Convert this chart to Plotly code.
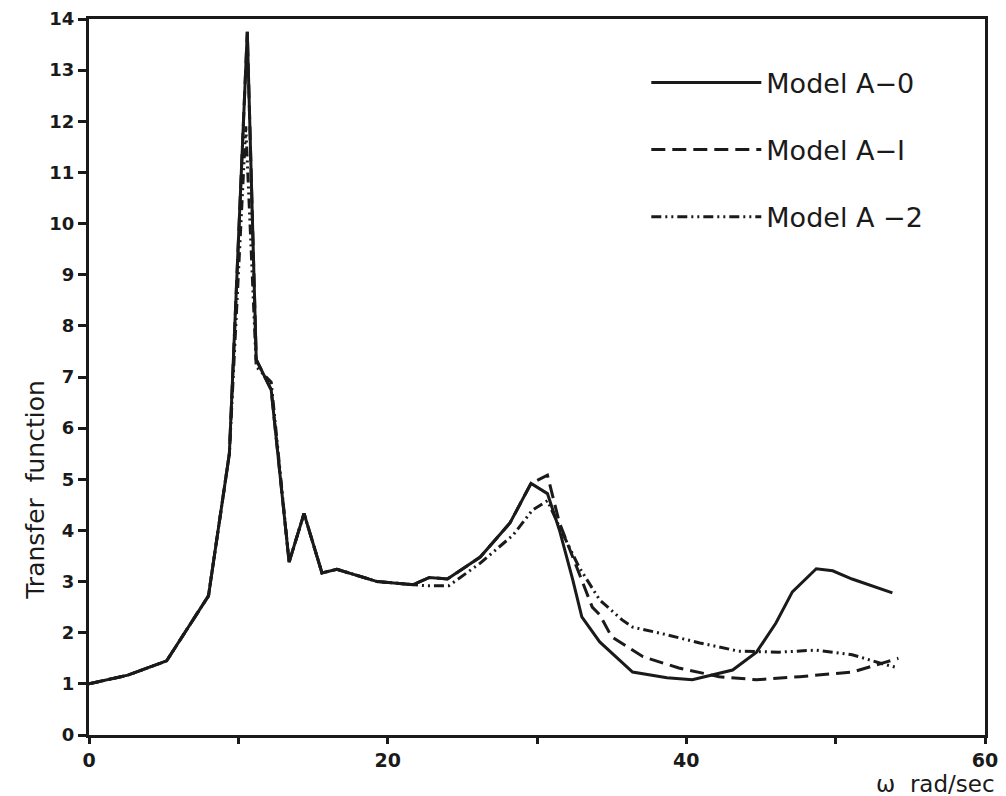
import plotly.graph_objects as go

# Model A-0 (solid)
x_a0 = [0, 2.6, 5.2, 8.0, 9.4, 10.6, 11.2, 12.2, 13.4, 14.4, 15.6, 16.6, 19.3, 21.7, 22.8, 24.0,
        26.2, 28.2, 29.6, 30.7, 31.5, 32.4, 33.0, 34.2, 36.4, 38.7, 40.4, 43.1, 44.7, 46.0,
        47.1, 48.7, 49.8, 51.1, 53.8]
y_a0 = [1.0, 1.17, 1.45, 2.72, 5.5, 13.75, 7.34, 6.75, 3.38, 4.33, 3.17, 3.24, 3.0, 2.94, 3.08, 3.05,
        3.48, 4.15, 4.92, 4.72, 4.01, 3.03, 2.31, 1.82, 1.23, 1.12, 1.08, 1.27, 1.62, 2.19,
        2.8, 3.25, 3.21, 3.05, 2.78]

# Model A-1 (dashed)
x_a1 = [0, 2.6, 5.2, 8.0, 9.4, 10.6, 11.2, 12.2, 13.4, 14.4, 15.6, 16.6, 19.3, 21.7, 22.8, 24.0,
        26.2, 28.2, 29.6, 30.7, 31.5, 32.8, 33.7, 34.2, 35.0, 37.1, 39.5, 42.2, 44.7, 47.6,
        51.1, 53.4, 54.2]
y_a1 = [1.0, 1.17, 1.45, 2.72, 5.5, 13.75, 7.34, 6.75, 3.38, 4.33, 3.17, 3.24, 3.0, 2.94, 3.08, 3.05,
        3.48, 4.15, 4.92, 5.08, 4.15, 3.17, 2.5, 2.35, 1.92, 1.53, 1.31, 1.14, 1.08, 1.14,
        1.23, 1.43, 1.5]

# Model A-2 (dash-dot-dot)
x_a2 = [0, 2.6, 5.2, 8.0, 9.4, 10.5, 11.2, 12.2, 13.4, 14.4, 15.6, 16.6, 19.3, 21.7, 22.5, 24.1,
        26.2, 28.4, 29.7, 30.7, 31.5, 32.8, 34.2, 35.7, 36.4, 38.4, 40.9, 43.5, 46.2, 48.7,
        51.1, 53.4, 54.2]
y_a2 = [1.0, 1.17, 1.45, 2.72, 5.5, 11.9, 7.2, 6.9, 3.38, 4.33, 3.17, 3.24, 3.0, 2.94, 2.92, 2.92,
        3.36, 3.91, 4.4, 4.58, 4.07, 3.29, 2.64, 2.25, 2.11, 1.98, 1.8, 1.64, 1.62, 1.66,
        1.57, 1.37, 1.31]

series = [
    ("Model A\u22120", x_a0, y_a0, "solid"),
    ("Model A\u2212I", x_a1, y_a1, "14px,7px"),
    ("Model A \u22122", x_a2, y_a2, "10px,4px,2px,4px,2px,4px"),
]

x_tickvals = [0, 10, 20, 30, 40, 50, 60]
x_ticktext = ["0", "", "20", "", "40", "", "60"]
y_tickvals = list(range(0, 15))

fig = go.Figure()
for i, (name, xs, ys, dash) in enumerate(series):
    fig.add_trace(go.Scatter(
        x=xs, y=ys, mode="lines", name=name, legendgroup=f"g{i}",
        line=dict(color="#1a1a1a", width=3, dash=dash),
    ))

font_family = "DejaVu Sans, Arial, sans-serif"
ink = "#1a1a1a"
fig.update_layout(
    width=998, height=788,
    margin=dict(l=81, r=21, t=11, b=61, autoexpand=False),
    paper_bgcolor="white", plot_bgcolor="white",
    showlegend=True,
    legend=dict(
        x=0.622, y=0.945, xanchor="left", yanchor="top",
        bgcolor="rgba(0,0,0,0)", borderwidth=0,
        font=dict(family=font_family, size=27, color=ink),
        itemwidth=110, traceorder="grouped", tracegroupgap=29,
    ),
    xaxis=dict(
        range=[0, 60], tickvals=x_tickvals, ticktext=x_ticktext,
        showgrid=False, zeroline=False, automargin=False,
        showline=True, linecolor=ink, linewidth=3, mirror=True,
        ticks="outside", ticklen=6, tickwidth=3, tickcolor=ink,
        tickfont=dict(family=font_family, size=19, color=ink, weight="bold"),
    ),
    yaxis=dict(
        range=[0, 14], tickvals=y_tickvals,
        showgrid=False, zeroline=False, automargin=False,
        showline=True, linecolor=ink, linewidth=3, mirror=True,
        ticks="outside", ticklen=8, tickwidth=3, tickcolor=ink,
        tickfont=dict(family=font_family, size=18, color=ink, weight="bold"),
    ),
    annotations=[
        dict(text="Transfer  function", xref="paper", yref="paper", x=-0.078, y=0.342,
             textangle=-90, showarrow=False,
             font=dict(family=font_family, size=25, color=ink)),
        dict(text="\u03c9  rad/sec", xref="paper", yref="paper", x=1.013, y=-0.068,
             xanchor="right", yanchor="middle", showarrow=False,
             font=dict(family=font_family, size=23, color=ink)),
    ],
)

fig.write_html("out.html")
